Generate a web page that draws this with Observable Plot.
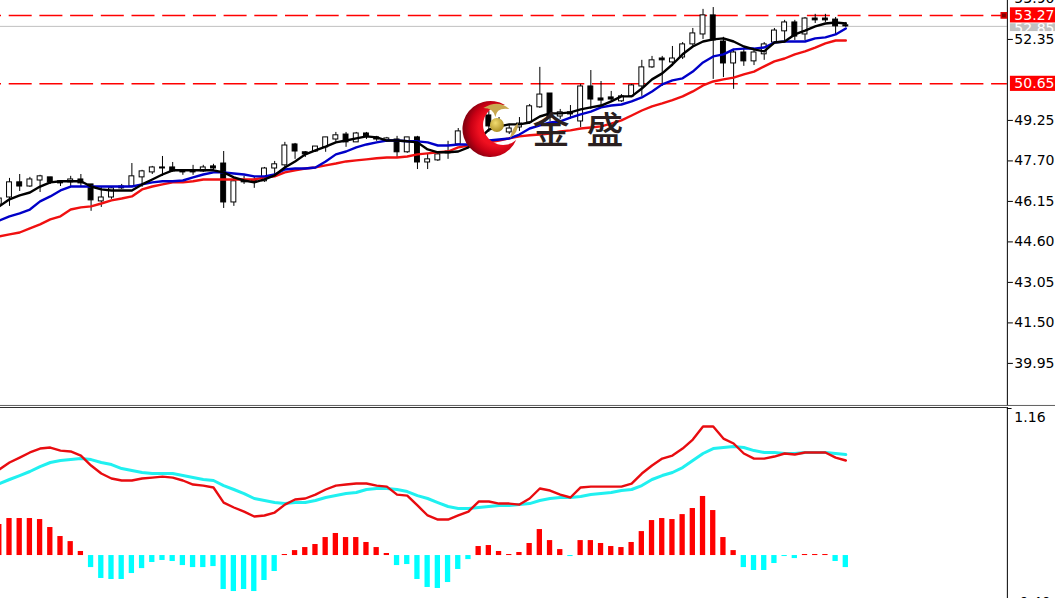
<!DOCTYPE html>
<html><head><meta charset="utf-8">
<script src="https://cdn.jsdelivr.net/npm/d3@7"></script>
<script src="https://cdn.jsdelivr.net/npm/@observablehq/plot@0.6"></script>
<style>
html,body{margin:0;padding:0;background:#fff;overflow:hidden}
#chart{position:relative;width:1055px;height:598px;overflow:hidden;background:#fff}
#chart svg{position:absolute;left:0;display:block;overflow:hidden;background:transparent}
</style></head><body><div id="chart"></div>
<script>
const opens=[46.03,46.30,46.88,46.72,46.95,47.07,46.92,46.88,46.99,46.80,46.15,46.30,46.72,46.72,47.07,47.26,47.45,47.45,47.30,47.34,47.30,47.49,47.60,46.11,46.95,46.95,46.92,47.41,47.53,48.33,48.03,48.06,48.22,48.52,48.71,48.41,48.75,48.60,48.45,48.52,48.03,48.60,47.64,47.72,48.06,48.33,48.83,49.06,49.44,48.98,48.79,48.98,49.17,49.75,50.28,49.40,49.56,49.21,50.55,50.09,50.13,49.98,50.17,50.55,51.28,51.62,51.47,51.66,52.16,52.54,53.27,52.27,51.43,51.85,51.51,51.78,52.23,52.66,53.00,52.54,53.15,53.15,53.11,52.89];
const closes=[46.26,46.88,46.72,46.99,47.11,46.88,46.84,46.99,46.84,46.19,46.30,46.65,46.65,47.11,47.30,47.45,47.41,47.30,47.26,47.26,47.45,47.41,46.11,46.92,46.88,46.88,47.41,47.57,48.29,48.06,47.95,48.25,48.60,48.68,48.41,48.75,48.64,48.52,48.56,48.03,48.60,47.64,47.76,47.95,47.99,48.83,49.10,49.21,49.02,49.21,48.94,49.13,49.79,50.24,49.36,49.56,49.48,50.55,50.05,50.01,50.05,50.17,50.59,51.28,51.55,51.55,51.62,52.16,52.58,53.27,52.31,51.43,51.85,51.51,51.85,52.16,52.69,53.00,52.46,53.15,53.08,53.08,52.85,52.85];
const highs=[46.38,47.03,47.18,47.07,47.15,47.07,46.95,47.11,47.18,46.80,46.69,46.72,46.80,47.60,47.34,47.49,47.87,47.64,47.37,47.53,47.53,47.57,48.06,47.03,47.11,47.07,47.45,47.68,48.41,48.37,48.06,48.25,48.60,48.79,48.79,48.79,48.79,48.64,48.60,48.64,48.60,48.64,47.95,48.03,48.45,48.94,49.17,49.29,49.59,49.36,49.10,49.36,49.86,51.28,50.28,49.67,49.82,50.63,51.16,50.74,50.36,50.24,50.63,51.55,51.70,51.70,52.08,52.23,52.77,53.50,53.57,52.43,51.97,51.97,51.97,52.23,52.77,53.08,53.08,53.19,53.31,53.31,53.19,53.00];
const lows=[45.84,45.96,46.53,46.69,46.49,46.80,46.72,46.72,46.72,45.77,45.92,46.23,46.61,46.72,46.69,47.18,47.11,47.26,47.15,47.15,47.26,47.30,45.88,45.96,46.80,46.65,46.88,47.18,47.37,47.76,47.83,48.03,48.03,48.41,48.22,48.41,48.52,48.45,48.41,47.80,47.99,47.37,47.37,47.68,47.76,48.33,48.79,48.90,48.79,48.83,48.71,48.83,49.10,49.71,49.21,49.29,49.29,48.98,49.67,49.79,49.94,49.94,50.13,50.17,51.24,50.55,51.32,51.58,52.08,52.35,50.82,50.89,50.44,51.32,51.35,51.55,52.20,52.23,52.31,52.31,52.96,53.00,52.54,52.81];
const maFast=[45.96,46.23,46.38,46.49,46.72,46.88,46.92,46.92,46.92,46.72,46.61,46.57,46.57,46.57,46.80,46.99,47.18,47.34,47.34,47.34,47.34,47.34,47.26,47.07,46.95,46.88,46.99,47.15,47.45,47.68,47.95,48.10,48.25,48.41,48.48,48.56,48.64,48.60,48.48,48.48,48.45,48.41,48.14,48.03,48.03,48.06,48.22,48.52,48.90,49.02,49.10,49.10,49.17,49.40,49.52,49.52,49.56,49.67,49.75,49.82,49.98,50.17,50.17,50.47,50.82,51.05,51.39,51.78,52.08,52.27,52.35,52.39,52.27,52.08,51.97,51.89,52.23,52.27,52.54,52.69,52.85,52.96,53.00,52.96];
const maMid=[45.42,45.58,45.69,45.84,46.15,46.34,46.57,46.72,46.72,46.72,46.72,46.72,46.72,46.72,46.80,46.88,46.92,46.92,46.95,47.07,47.18,47.26,47.26,47.22,47.18,47.11,47.11,47.18,47.37,47.41,47.41,47.45,47.68,47.95,48.06,48.22,48.33,48.41,48.48,48.48,48.45,48.45,48.41,48.29,48.29,48.33,48.33,48.41,48.48,48.52,48.56,48.71,48.94,49.06,49.17,49.21,49.36,49.48,49.59,49.75,49.82,49.86,49.98,50.13,50.36,50.63,50.78,50.86,51.12,51.47,51.70,51.78,51.97,52.00,52.00,52.04,52.23,52.27,52.27,52.27,52.39,52.43,52.54,52.77];
const maSlow=[44.81,44.89,44.96,45.12,45.27,45.46,45.58,45.84,45.92,45.96,46.07,46.19,46.26,46.34,46.61,46.72,46.80,46.88,46.88,46.92,46.99,46.99,46.99,46.99,46.99,46.99,47.07,47.11,47.26,47.34,47.41,47.45,47.53,47.60,47.68,47.72,47.76,47.80,47.83,47.83,47.87,47.95,47.99,48.03,48.06,48.22,48.29,48.33,48.41,48.48,48.56,48.64,48.68,48.71,48.75,48.83,48.87,48.94,48.98,49.02,49.13,49.25,49.44,49.63,49.79,49.90,50.03,50.17,50.36,50.59,50.74,50.82,50.89,51.01,51.12,51.32,51.51,51.62,51.78,51.89,52.04,52.20,52.31,52.31];
const macdHist=[.245,.292,.292,.292,.284,.221,.150,.110,.032,-.095,-.181,-.189,-.189,-.142,-.103,-.055,-.039,-.047,-.079,-.095,-.095,-.087,-.268,-.284,-.268,-.284,-.197,-.126,.008,.039,.063,.087,.142,.174,.142,.142,.103,.063,.016,-.079,-.071,-.189,-.252,-.260,-.213,-.110,-.032,.071,.079,.032,.008,.024,.095,.205,.118,.047,-.008,.118,.118,.095,.071,.063,.103,.189,.276,.292,.284,.323,.371,.466,.355,.142,.039,-.095,-.118,-.118,-.063,-.008,-.024,.008,.008,.008,-.047,-.095];
const macdLine=[.679,.734,.773,.813,.844,.852,.828,.821,.789,.710,.647,.608,.592,.592,.608,.615,.623,.615,.592,.560,.552,.537,.418,.379,.347,.308,.316,.339,.402,.442,.450,.481,.521,.552,.560,.568,.568,.552,.544,.481,.473,.395,.316,.284,.284,.316,.347,.426,.426,.410,.410,.402,.450,.529,.513,.481,.458,.537,.544,.544,.544,.544,.568,.647,.710,.765,.789,.844,.915,1.018,1.018,.923,.884,.805,.765,.765,.781,.805,.797,.813,.813,.813,.773,.750];
const macdSignal=[.568,.600,.631,.663,.702,.734,.750,.757,.765,.757,.734,.718,.686,.671,.655,.647,.647,.647,.631,.615,.600,.592,.552,.521,.489,.450,.434,.418,.410,.418,.418,.434,.458,.473,.489,.497,.521,.529,.529,.521,.505,.473,.450,.418,.387,.371,.371,.379,.387,.395,.395,.402,.410,.434,.450,.458,.458,.466,.481,.489,.497,.513,.521,.552,.600,.631,.655,.694,.750,.805,.844,.852,.860,.852,.828,.813,.813,.805,.805,.813,.813,.813,.805,.797];
const priceTicks=[53.90,52.35,49.25,47.70,46.15,44.60,43.05,41.50,39.95];
const macdTicks=[1.16];
const levels=["53.27","50.65"];
const currentPrice="52.85";
const brand=["金","盛"];

const idx=opens.map((_,i)=>i);
const xMin=0.118,xAxis=98.84,xEnd=103.56;
const xScale={domain:[xMin,xEnd],range:[0,1055],axis:null};
const font='"DejaVu Sans",sans-serif';
const up=i=>closes[i]>=opens[i];
const RED="#ff0000",CYAN="#00ffff";

function logo(index,{x,y}){
  const cx=x(48.2),cy=y(48.90);
  const ns="http://www.w3.org/2000/svg";
  const g=document.createElementNS(ns,"g");
  const R=28,r=20;
  const tx=14.6,ty=-24,bx=25.8,by=11;
  g.innerHTML=`<defs>
  <radialGradient id="lgR" gradientUnits="userSpaceOnUse" cx="${cx+6}" cy="${cy-1}" r="${R+4}">
   <stop offset="0.55" stop-color="#f01020"/><stop offset="0.8" stop-color="#c80014"/><stop offset="1" stop-color="#8a0010"/></radialGradient>
  <radialGradient id="lgG" cx="0.4" cy="0.35" r="0.7"><stop offset="0" stop-color="#f2dc70"/><stop offset="1" stop-color="#a88a20"/></radialGradient></defs>
  <path fill="url(#lgR)" d="M${cx+tx},${cy+ty} A${R},${R} 0 1 0 ${cx+bx},${cy+by} A${r},${r} 0 1 1 ${cx+tx},${cy+ty} Z"/>
  <path fill="#c8a850" d="M${cx-7},${cy-21} Q${cx+8},${cy-30} ${cx+19},${cy-20} Q${cx+6},${cy-22} ${cx+5},${cy-12} Q${cx+3},${cy-21} ${cx-7},${cy-21} Z"/>
  <path fill="#c8a850" d="M${cx+19.5},${cy+9} Q${cx+22},${cy-1} ${cx+27.5},${cy-6} Q${cx+28},${cy+4} ${cx+19.5},${cy+9} Z"/>
  <circle cx="${cx+6.5}" cy="${cy-4}" r="7" fill="url(#lgG)"/>`;
  return g;
}

const topPlot=Plot.plot({
  width:1055,height:406,marginTop:0,marginBottom:0,marginLeft:0,marginRight:0,
  x:xScale,
  y:{domain:[38.30,53.84],axis:null},
  style:{fontFamily:font,fontSize:"14px",background:"transparent",color:"#000"},
  marks:[
    Plot.ruleY(levels.map(Number),{x1:xMin,x2:xAxis,stroke:RED,strokeWidth:1.5,strokeDasharray:"23,7.7",strokeDashoffset:22}),
    Plot.ruleY([Number(currentPrice)],{x1:xMin,x2:xAxis,stroke:"#c0c0c0",strokeWidth:1}),
    Plot.ruleX(idx,{x:i=>i,y1:i=>lows[i],y2:i=>highs[i],stroke:"#000",strokeWidth:1,clip:true}),
    Plot.rect(idx,{x1:i=>i-.24,x2:i=>i+.24,y1:i=>opens[i],y2:i=>closes[i],fill:i=>up(i)?"#fff":"#000",stroke:"#000",strokeWidth:1,clip:true}),
    Plot.line(idx,{x:i=>i,y:i=>maSlow[i],stroke:"#f01010",strokeWidth:2.4,clip:true}),
    Plot.line(idx,{x:i=>i,y:i=>maMid[i],stroke:"#0000c8",strokeWidth:2.4,clip:true}),
    Plot.line(idx,{x:i=>i,y:i=>maFast[i],stroke:"#000",strokeWidth:2.4,clip:true}),
    logo,
    Plot.text(brand,{x:[54.1,59.4],y:[48.80,48.80],text:d=>d,fontFamily:'"Noto Sans CJK SC"',fontSize:37,fontWeight:500,fill:"#2a1f1f"}),
    Plot.ruleX([xAxis],{stroke:"#000",strokeWidth:1}),
    Plot.ruleY([38.34],{x1:xMin,x2:xEnd,stroke:"#606060",strokeWidth:1}),
    Plot.axisY({anchor:"right",x:xAxis,ticks:priceTicks,tickFormat:d3.format(".2f"),tickSize:5,tickPadding:2,label:null,textAnchor:"start",stroke:"#000",fill:"#000"}),
    Plot.dot([Number(levels[0])],{x:98.5,y:d=>d,symbol:"square",r:3,fill:"#800000",stroke:"#e00000"}),
    Plot.rect([Number(currentPrice)],{x1:99.14,x2:xEnd,y1:d=>d-.2,y2:d=>d+.1,fill:"#c0c0c0"}),
    Plot.text([currentPrice],{x:xAxis,y:Number(currentPrice),dx:7,dy:2,text:d=>d,textAnchor:"start",fill:"#fff"}),
    Plot.rect(levels,{x1:99.14,x2:xEnd,y1:d=>+d-.29,y2:d=>+d+.29,fill:RED}),
    Plot.text(levels,{x:xAxis,y:d=>+d,dx:7,text:d=>d,textAnchor:"start",fill:"#fff"})
  ]
});
topPlot.style.top="0px";

const bottomPlot=Plot.plot({
  width:1055,height:193,marginTop:2,marginBottom:0,marginLeft:0,marginRight:0,
  x:xScale,
  y:{domain:[-.339,1.168],axis:null},
  style:{fontFamily:font,fontSize:"14px",background:"transparent",color:"#000"},
  marks:[
    Plot.rect(idx,{x1:i=>i-.26,x2:i=>i+.26,y1:0,y2:i=>macdHist[i],fill:i=>macdHist[i]>=0?RED:CYAN,clip:true}),
    Plot.line(idx,{x:i=>i,y:i=>macdSignal[i],stroke:"#20f0f0",strokeWidth:3,clip:true}),
    Plot.line(idx,{x:i=>i,y:i=>macdLine[i],stroke:"#e80c10",strokeWidth:2.4,clip:true}),
    Plot.ruleX([xAxis],{stroke:"#000",strokeWidth:1}),
    Plot.ruleY([1.168],{x1:xMin,x2:xAxis,stroke:"#303030",strokeWidth:1}),
    Plot.ruleY(macdTicks,{x1:xAxis,x2:99.3,stroke:"#000"}),
    Plot.text(macdTicks,{x:xAxis,y:d=>d,dx:7,dy:9,text:d=>d3.format(".2f")(d),textAnchor:"start",fill:"#000"}),
    Plot.text(["-0.40"],{x:xAxis,y:-.40,dx:7,dy:-4,text:d=>d,textAnchor:"start",fill:"#000"})
  ]
});
bottomPlot.style.top="405px";
document.getElementById("chart").append(topPlot,bottomPlot);
</script></body></html>
